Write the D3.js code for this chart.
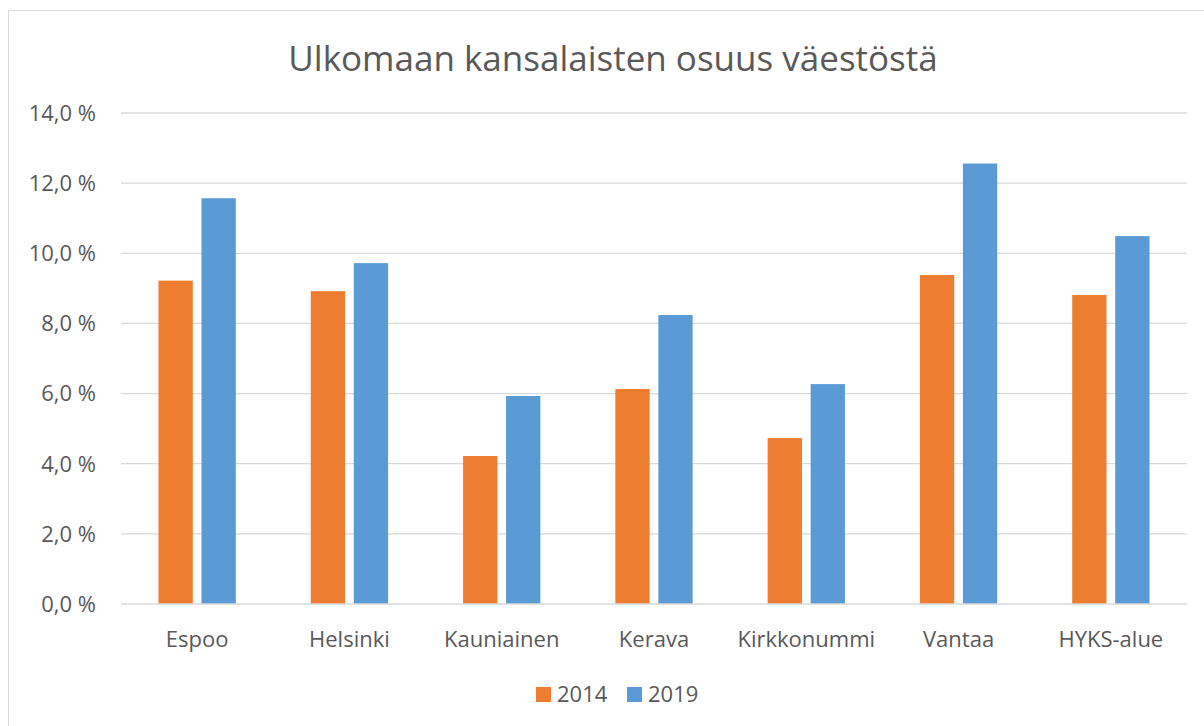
<!DOCTYPE html>
<html><head><meta charset="utf-8">
<script src="https://cdn.jsdelivr.net/npm/d3@7"></script>
<style>
html,body{margin:0;padding:0;background:#fff;}
svg{display:block;font-family:"Open Sans","Noto Sans",sans-serif;}
</style></head>
<body>
<svg id="chart" width="1204" height="726"></svg>
<script>
const title = "Ulkomaan kansalaisten osuus väestöstä";
const categories = ["Espoo","Helsinki","Kauniainen","Kerava","Kirkkonummi","Vantaa","HYKS-alue"];
const seriesNames = ["2014","2019"];
const values2014 = [9.22, 8.92, 4.22, 6.13, 4.73, 9.38, 8.81];
const values2019 = [11.57, 9.72, 5.93, 8.24, 6.27, 12.56, 10.49];
const yTicks = [0,2,4,6,8,10,12,14];
const colors = ["#ED7D31","#5B9BD5"];

(function(){
const svg = d3.select("#chart");
svg.append("rect").attr("x",8.5).attr("y",10.5).attr("width",1300).attr("height",800)
  .attr("fill","none").attr("stroke","#d9d9d9").attr("stroke-width",1);

const pL = 121, pR = 1187, pT = 113, pB = 604;
const x = d3.scaleBand().domain(categories).range([pL,pR]).paddingInner(0).paddingOuter(0);
const y = d3.scaleLinear().domain([0,14]).range([pB,pT]);

svg.append("g").selectAll("line").data(yTicks.filter(d=>d>0)).join("line")
  .attr("x1",pL).attr("x2",pR).attr("y1",d=>y(d)).attr("y2",d=>y(d))
  .attr("stroke","#d9d9d9").attr("stroke-width",1.3);

svg.append("g").selectAll("text").data(yTicks).join("text")
  .attr("x",96).attr("y",d=>y(d)).attr("dy","0.36em").attr("text-anchor","end")
  .attr("fill","#595959").attr("font-size",22)
  .text(d=>d3.format(".1f")(d).replace(".",",")+" %");

const bw = 34.3, gap = 8.7;
const data = [];
categories.forEach((c,i)=>{
  data.push({c, s:0, v:values2014[i]});
  data.push({c, s:1, v:values2019[i]});
});
svg.append("g").selectAll("rect").data(data).join("rect")
  .attr("x",d=>x(d.c)+x.bandwidth()/2 + (d.s===0 ? -gap/2-bw : gap/2))
  .attr("width",bw)
  .attr("y",d=>y(d.v)).attr("height",d=>y(0)-y(d.v))
  .attr("fill",d=>colors[d.s]);

svg.append("line").attr("x1",pL).attr("x2",pR).attr("y1",pB).attr("y2",pB)
  .attr("stroke","#d9d9d9").attr("stroke-width",1.3);

svg.append("g").selectAll("text").data(categories).join("text")
  .attr("x",d=>x(d)+x.bandwidth()/2).attr("y",647).attr("text-anchor","middle")
  .attr("fill","#595959").attr("font-size",22).text(d=>d);

svg.append("text").attr("x",613).attr("y",71).attr("text-anchor","middle")
  .attr("fill","#595959").attr("font-size",35).text(title);

const leg = svg.append("g");
const legX = [536, 627];
seriesNames.forEach((s,i)=>{
  leg.append("rect").attr("x",legX[i]).attr("y",687).attr("width",15).attr("height",15).attr("fill",colors[i]);
  leg.append("text").attr("x",legX[i]+21).attr("y",702).attr("fill","#595959").attr("font-size",22).text(s);
});
})();
</script>
</body></html>
